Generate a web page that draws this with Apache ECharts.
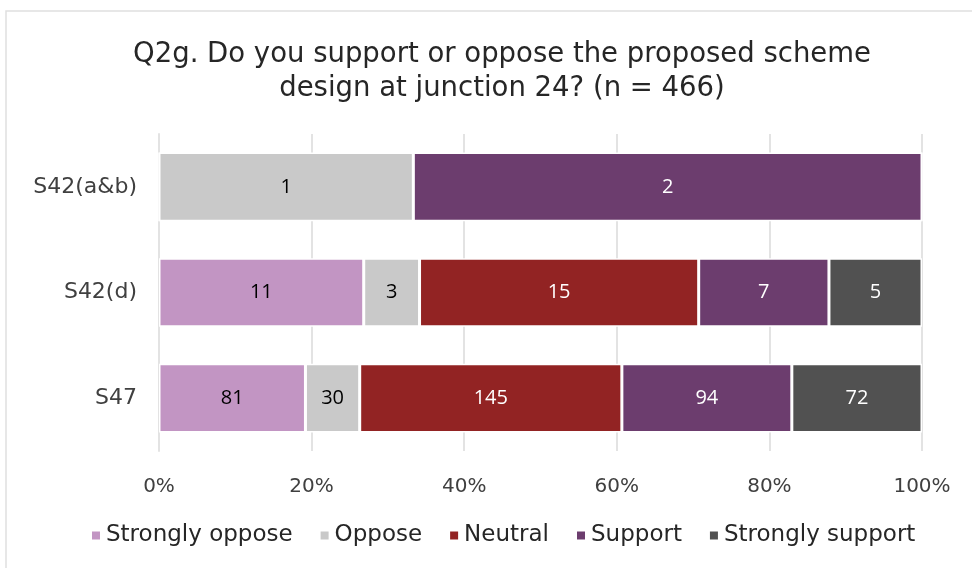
<!DOCTYPE html>
<html><head><meta charset="utf-8">
<script src="https://cdn.jsdelivr.net/npm/echarts@6/dist/echarts.min.js"></script>
<style>html,body{margin:0;padding:0;background:#fff}#c{width:972px;height:568px}</style>
</head><body><div id="c"></div>
<script>
const categories = ['S42(a&b)', 'S42(d)', 'S47'];
const seriesNames = ['Strongly oppose', 'Oppose', 'Neutral', 'Support', 'Strongly support'];
const stronglyOppose = [0, 11, 81];
const oppose = [1, 3, 30];
const neutral = [0, 15, 145];
const support = [2, 7, 94];
const stronglySupport = [0, 5, 72];
const tickLabels = ['0%', '20%', '40%', '60%', '80%', '100%'];
const colors = ['#C295C3', '#C9C9C9', '#922323', '#6C3D6E', '#515151'];
const labelColors = ['#000', '#000', '#fff', '#fff', '#fff'];

const allVals = [stronglyOppose, oppose, neutral, support, stronglySupport];
const totals = categories.map((_, i) => allVals.reduce((s, a) => s + a[i], 0));
const chart = echarts.init(document.getElementById('c'), null, {renderer: 'canvas'});
const txtFont = '"Open Sans", "Liberation Sans", sans-serif';
const titleFont = '"DejaVu Sans", sans-serif';
chart.setOption({
  animation: false,
  backgroundColor: '#fff',
  title: {
    text: 'Q2g. Do you support or oppose the proposed scheme\ndesign at junction 24? (n = 466)',
    left: 497, top: 33, textAlign: 'center',
    textStyle: {fontFamily: titleFont, fontWeight: 'normal', fontSize: 27.5, color: '#262626', lineHeight: 34, align: 'center'}
  },
  legend: {
    bottom: 16, left: 85, itemWidth: 10, itemHeight: 10, itemGap: 26,
    icon: 'rect',
    textStyle: {fontFamily: titleFont, fontSize: 23, color: '#262626'},
    data: seriesNames
  },
  grid: {left: 159, right: 50, top: 134, bottom: 117, containLabel: false},
  xAxis: {
    type: 'value', min: 0, max: 100, interval: 20,
    axisLabel: {formatter: v => tickLabels[v / 20], fontFamily: titleFont, fontSize: 20, color: '#404040', margin: 26},
    splitLine: {lineStyle: {color: '#E3E3E3', width: 2}},
    axisLine: {show: false}, axisTick: {show: false}
  },
  yAxis: {
    type: 'category', inverse: true, data: categories,
    axisLabel: {fontFamily: titleFont, fontSize: 22, color: '#404040', margin: 22},
    axisLine: {show: true, lineStyle: {color: '#E3E3E3', width: 2}},
    axisTick: {show: false}
  },
  graphic: [{type: 'rect', shape: {x: 6, y: 11, width: 980, height: 570}, style: {fill: 'none', stroke: '#E0E0E0', lineWidth: 1.5}, z: -1, silent: true}],
  series: seriesNames.map((name, k) => ({
    name, type: 'bar', stack: 'a', barWidth: '65%',
    itemStyle: {color: colors[k], borderColor: '#fff', borderWidth: 1.5},
    label: {
      show: true, position: 'inside', color: labelColors[k],
      fontFamily: txtFont, fontSize: 20,
      formatter: p => allVals[k][p.dataIndex] === 0 ? '' : String(allVals[k][p.dataIndex])
    },
    data: allVals[k].map((v, i) => v / totals[i] * 100)
  }))
});
</script></body></html>
